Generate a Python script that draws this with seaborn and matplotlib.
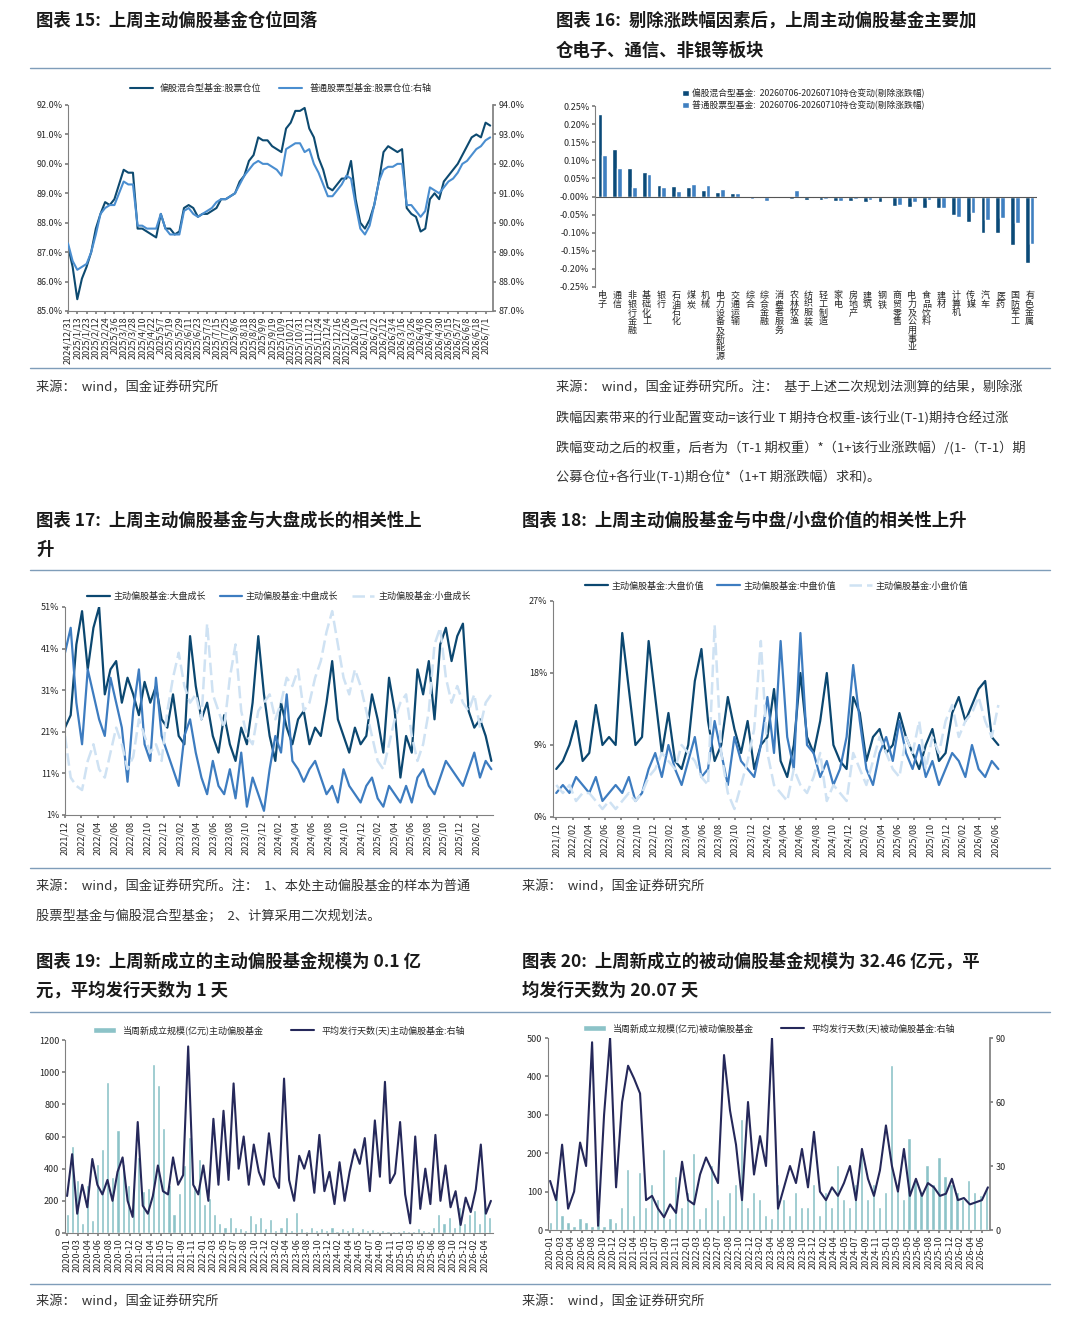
import numpy as np
import pandas as pd
import matplotlib
matplotlib.use("Agg")
import matplotlib.pyplot as plt
import seaborn as sns
from matplotlib.lines import Line2D

sns.set_theme(style="white")
plt.rcParams['font.family'] = ['Noto Sans CJK SC', 'DejaVu Sans']
plt.rcParams['axes.unicode_minus'] = False

# ---------------- data ----------------
# chart 15
c15_ticks = ["2024/12/31", "2025/1/13", "2025/1/23", "2025/2/12", "2025/2/24", "2025/3/6", "2025/3/18",
             "2025/3/28", "2025/4/10", "2025/4/22", "2025/5/7", "2025/5/19", "2025/5/29", "2025/6/11",
             "2025/6/23", "2025/7/3", "2025/7/15", "2025/7/25", "2025/8/6", "2025/8/18", "2025/8/28",
             "2025/9/9", "2025/9/19", "2025/10/9", "2025/10/21", "2025/10/31", "2025/11/12", "2025/11/24",
             "2025/12/4", "2025/12/16", "2025/12/26", "2026/1/9", "2026/1/21", "2026/2/2", "2026/2/12",
             "2026/3/4", "2026/3/16", "2026/3/26", "2026/4/8", "2026/4/20", "2026/4/30", "2026/5/15",
             "2026/5/27", "2026/6/8", "2026/6/18", "2026/7/1"]
c15_mixed = [87.2, 86.5, 85.4, 86.1, 86.5, 87.0, 87.8, 88.3, 88.7, 88.6, 88.8, 89.3, 89.8, 89.7, 89.7, 87.8,
             87.8, 87.7, 87.6, 87.5, 88.3, 87.8, 87.8, 87.6, 87.7, 88.5, 88.6, 88.5, 88.2, 88.3, 88.3, 88.4,
             88.5, 88.8, 88.8, 88.9, 89.0, 89.4, 89.6, 90.1, 90.3, 90.9, 90.8, 90.8, 90.6, 90.5, 90.4, 91.2,
             91.4, 91.8, 91.8, 91.9, 91.2, 90.9, 90.2, 89.8, 89.2, 89.1, 89.3, 89.5, 89.5, 90.1, 88.8, 88.0,
             87.8, 88.1, 88.6, 89.4, 90.4, 90.6, 90.5, 90.4, 90.5, 88.5, 88.3, 88.2, 87.7, 87.8, 88.8, 89.0,
             88.8, 89.4, 89.6, 89.8, 90.0, 90.3, 90.6, 90.9, 91.0, 90.9, 91.4, 91.3]
c15_stock = [89.3, 88.7, 88.4, 88.5, 88.6, 89.0, 89.6, 90.3, 90.5, 90.6, 90.6, 91.0, 91.4, 91.3, 91.3, 89.9,
             89.9, 89.8, 89.8, 89.8, 90.3, 89.8, 89.6, 89.6, 89.6, 90.4, 90.5, 90.3, 90.2, 90.3, 90.4, 90.5,
             90.7, 90.8, 90.8, 90.9, 91.0, 91.3, 91.6, 91.8, 92.0, 92.1, 92.0, 92.0, 91.9, 91.8, 91.6, 92.5,
             92.6, 92.7, 92.7, 92.4, 92.5, 92.0, 91.7, 91.3, 90.9, 90.9, 91.1, 91.3, 91.6, 91.5, 90.6, 89.8,
             89.6, 89.9, 90.6, 91.4, 91.8, 91.9, 91.9, 92.0, 92.0, 90.6, 90.6, 90.4, 90.2, 90.4, 91.2, 91.1,
             91.0, 91.2, 91.4, 91.5, 91.7, 92.0, 92.1, 92.3, 92.5, 92.6, 92.8, 92.9]

# chart 16
c16_inds = ["电子", "通信", "非银行金融", "基础化工", "银行", "石油石化", "煤炭", "机械", "电力设备及新能源",
            "交通运输", "综合", "综合金融", "消费者服务", "农林牧渔", "纺织服装", "轻工制造", "家电", "房地产",
            "建筑", "钢铁", "商贸零售", "电力及公用事业", "食品饮料", "建材", "计算机", "传媒", "汽车", "医药",
            "国防军工", "有色金属"]
c16_mixed = [0.228, 0.130, 0.080, 0.067, 0.031, 0.029, 0.025, 0.017, 0.012, 0.011, -0.002, -0.004, -0.005,
             -0.008, -0.009, -0.010, -0.013, -0.013, -0.014, -0.015, -0.027, -0.029, -0.032, -0.033, -0.050,
             -0.070, -0.100, -0.101, -0.135, -0.185]
c16_stock = [0.115, 0.080, 0.026, 0.063, 0.026, 0.015, 0.035, 0.031, 0.020, 0.010, -0.007, -0.012, -0.002,
             0.017, -0.004, -0.008, -0.013, -0.007, -0.010, -0.001, -0.023, -0.015, -0.009, -0.032, -0.056,
             -0.046, -0.064, -0.059, -0.073, -0.130]

# chart 17
c17_ticks = ["2021/12", "2022/02", "2022/04", "2022/06", "2022/08", "2022/10", "2022/12", "2023/02", "2023/04",
             "2023/06", "2023/08", "2023/10", "2023/12", "2024/02", "2024/04", "2024/06", "2024/08", "2024/10",
             "2024/12", "2025/02", "2025/04", "2025/06", "2025/08", "2025/10", "2025/12", "2026/02"]
c17_large = [22, 25, 42, 50, 36, 46, 51, 30, 36, 38, 28, 34, 30, 25, 33, 28, 32, 24, 22, 30, 20, 18, 44, 32,
             24, 28, 20, 16, 25, 18, 14, 22, 18, 28, 44, 30, 20, 14, 28, 22, 18, 24, 26, 18, 22, 20, 28, 38,
             24, 20, 16, 22, 18, 20, 30, 24, 16, 34, 26, 10, 20, 16, 36, 30, 38, 24, 42, 46, 38, 44, 47, 26,
             22, 24, 20, 14]
c17_mid = [40, 46, 28, 18, 36, 30, 24, 20, 34, 28, 22, 9, 26, 36, 18, 14, 34, 20, 16, 12, 8, 20, 24, 16,
           10, 6, 14, 8, 6, 12, 5, 16, 3, 10, 6, 2, 12, 20, 16, 30, 14, 12, 9, 12, 14, 10, 6, 8, 4, 12, 8,
           6, 4, 8, 10, 5, 3, 8, 6, 4, 8, 4, 10, 12, 8, 6, 10, 14, 12, 10, 8, 12, 16, 10, 14, 12]
c17_small = [20, 10, 8, 7, 14, 18, 12, 10, 16, 22, 18, 12, 15, 24, 20, 16, 18, 14, 26, 34, 40, 32, 28, 30,
             24, 47, 30, 26, 22, 34, 42, 26, 20, 18, 26, 28, 30, 24, 28, 34, 32, 36, 26, 28, 34, 38, 45, 50,
             42, 34, 30, 36, 32, 26, 20, 14, 12, 18, 24, 28, 30, 20, 14, 18, 26, 42, 46, 34, 28, 32, 28, 26,
             30, 22, 28, 30]

# chart 18
c18_ticks = ["2021/12", "2022/02", "2022/04", "2022/06", "2022/08", "2022/10", "2022/12", "2023/02", "2023/04",
             "2023/06", "2023/08", "2023/10", "2023/12", "2024/02", "2024/04", "2024/06", "2024/08", "2024/10",
             "2024/12", "2025/02", "2025/04", "2025/06", "2025/08", "2025/10", "2025/12", "2026/02", "2026/04",
             "2026/06"]
c18_large = [6, 7, 9, 12, 7, 8, 14, 9, 10, 9, 23, 16, 9, 10, 22, 15, 8, 13, 7, 6, 9, 17, 21, 12, 7, 9,
             15, 11, 8, 12, 6, 9, 10, 16, 7, 5, 9, 18, 10, 8, 12, 18, 9, 7, 6, 15, 13, 7, 10, 11, 8, 9, 13,
             10, 8, 6, 9, 11, 7, 8, 13, 15, 12, 14, 16, 17, 10, 9]
c18_mid = [3, 4, 3, 5, 4, 3, 5, 2, 3, 4, 3, 5, 2, 3, 6, 8, 5, 9, 6, 4, 7, 10, 5, 6, 12, 8, 4, 10, 7, 6,
           5, 9, 15, 8, 22, 10, 6, 23, 9, 8, 5, 7, 4, 6, 10, 19, 12, 6, 4, 8, 10, 7, 12, 8, 6, 9, 5, 7,
           4, 6, 8, 7, 5, 9, 6, 5, 7, 6]
c18_small = [4, 3, 4, 2, 3, 3, 2, 1, 2, 1, 2, 3, 2, 3, 5, 6, 8, 7, 6, 9, 8, 7, 5, 4, 24, 8, 3, 1, 4, 7,
             11, 22, 8, 4, 3, 2, 6, 4, 3, 5, 8, 2, 4, 3, 2, 8, 6, 4, 7, 10, 8, 6, 5, 10, 8, 12, 6, 10, 8,
             12, 14, 10, 12, 13, 15, 12, 10, 14]

# chart 19
c19_ticks = ["2020-01", "2020-03", "2020-04", "2020-06", "2020-08", "2020-10", "2020-12", "2021-02", "2021-04",
             "2021-05", "2021-07", "2021-09", "2021-11", "2022-01", "2022-03", "2022-05", "2022-07", "2022-08",
             "2022-10", "2022-12", "2023-02", "2023-04", "2023-06", "2023-08", "2023-10", "2023-12", "2024-02",
             "2024-04", "2024-05", "2024-07", "2024-09", "2024-11", "2025-01", "2025-03", "2025-05", "2025-06",
             "2025-08", "2025-10", "2025-12", "2026-02", "2026-04"]
c19_size = [120, 540, 330, 60, 300, 80, 430, 520, 940, 350, 640, 430, 300, 280, 470, 260, 280, 1050,
            920, 650, 300, 120, 250, 420, 600, 300, 460, 180, 220, 120, 60, 40, 100, 40, 30, 20, 110, 60,
            100, 30, 90, 20, 40, 100, 20, 130, 30, 15, 40, 20, 30, 20, 40, 15, 30, 20, 40, 15, 30, 20, 25, 15,
            20, 10, 15, 10, 20, 10, 15, 30, 20, 10, 40, 120, 60, 100, 40, 160, 60, 120, 140, 60, 200, 100]
c19_days = [230, 490, 120, 300, 160, 460, 300, 240, 330, 200, 380, 470, 200, 100, 690, 170, 120, 230, 420,
            260, 240, 470, 300, 360, 1160, 300, 240, 420, 200, 710, 300, 760, 330, 930, 400, 600, 300, 550,
            380, 300, 620, 350, 280, 960, 330, 200, 480, 400, 510, 250, 610, 260, 380, 180, 440, 200, 380,
            520, 430, 590, 260, 700, 350, 940, 310, 370, 690, 240, 60, 600, 150, 400, 180, 610, 200, 420,
            160, 260, 50, 220, 130, 270, 550, 120, 200]

# chart 20
c20_ticks = ["2020-01", "2020-03", "2020-04", "2020-06", "2020-08", "2020-10", "2020-12", "2021-02", "2021-04",
             "2021-05", "2021-07", "2021-09", "2021-11", "2022-01", "2022-03", "2022-05", "2022-07", "2022-08",
             "2022-10", "2022-12", "2023-02", "2023-04", "2023-06", "2023-08", "2023-10", "2023-12", "2024-02",
             "2024-04", "2024-05", "2024-07", "2024-09", "2024-11", "2025-01", "2025-03", "2025-05", "2025-06",
             "2025-08", "2025-10", "2025-12", "2026-02", "2026-04", "2026-06"]
c20_size = [20, 100, 40, 20, 10, 30, 20, 10, 40, 10, 30, 20, 60, 160, 40, 150, 60, 120, 80, 210, 30, 140, 60,
            100, 200, 30, 60, 170, 80, 40, 100, 120, 290, 60, 100, 80, 40, 30, 120, 80, 40, 100, 60, 60, 120,
            40, 100, 60, 170, 80, 60, 120, 200, 80, 120, 60, 100, 430, 120, 80, 240, 130, 100, 170, 120, 190,
            140, 120, 100, 80, 130, 100, 90, 110]
c20_days = [23, 14, 40, 10, 18, 41, 30, 88, 2, 54, 90, 20, 60, 77, 71, 64, 14, 16, 10, 6, 12, 8, 32, 14,
            12, 26, 34, 28, 22, 82, 56, 40, 14, 60, 26, 44, 30, 90, 10, 20, 30, 22, 38, 20, 46, 18, 14, 20,
            16, 22, 30, 14, 38, 24, 16, 28, 49, 30, 18, 38, 16, 24, 16, 22, 20, 16, 17, 24, 14, 15, 12, 13,
            14, 20]

# ---------------- figure ----------------
fig = plt.figure(figsize=(10.8, 13.29), dpi=100)
W, H = 1080, 1329


def ax_at(l, t, r, b):
    return fig.add_axes([l / W, 1 - b / H, (r - l) / W, (b - t) / H])


def txt(x, y, s, **kw):
    fig.text(x / W, 1 - y / H, s, va='center', ha='left', **kw)


def hline(y, x0=30, x1=1050):
    fig.add_artist(Line2D([x0 / W, x1 / W], [1 - y / H, 1 - y / H], color='#7F9DB9', lw=1))


tfont = dict(fontsize=12.5, fontweight='bold', fontstyle='italic', color='#1a1a1a')
sfont = dict(fontsize=9.5, color='#333333')

txt(36, 21, "图表 15:  上周主动偏股基金仓位回落", **tfont)
txt(556, 21, "图表 16:  剔除涨跌幅因素后，上周主动偏股基金主要加", **tfont)
txt(556, 51, "仓电子、通信、非银等板块", **tfont)
txt(36, 521, "图表 17:  上周主动偏股基金与大盘成长的相关性上", **tfont)
txt(36, 550, "升", **tfont)
txt(522, 521, "图表 18:  上周主动偏股基金与中盘/小盘价值的相关性上升", **tfont)
txt(36, 962, "图表 19:  上周新成立的主动偏股基金规模为 0.1 亿", **tfont)
txt(36, 991, "元，平均发行天数为 1 天", **tfont)
txt(522, 962, "图表 20:  上周新成立的被动偏股基金规模为 32.46 亿元，平", **tfont)
txt(522, 991, "均发行天数为 20.07 天", **tfont)

for y in (68, 368, 570, 868, 1012, 1284):
    hline(y)

txt(36, 388, "来源：  wind，国金证券研究所", **sfont)
txt(556, 388, "来源：  wind，国金证券研究所。注：  基于上述二次规划法测算的结果，剔除涨", **sfont)
txt(556, 418, "跌幅因素带来的行业配置变动=该行业 T 期持仓权重-该行业(T-1)期持仓经过涨", **sfont)
txt(556, 448, "跌幅变动之后的权重，后者为（T-1 期权重）*（1+该行业涨跌幅）/(1-（T-1）期", **sfont)
txt(556, 477, "公募仓位+各行业(T-1)期仓位*（1+T 期涨跌幅）求和)。", **sfont)
txt(36, 887, "来源：  wind，国金证券研究所。注：  1、本处主动偏股基金的样本为普通", **sfont)
txt(36, 916, "股票型基金与偏股混合型基金；  2、计算采用二次规划法。", **sfont)
txt(522, 887, "来源：  wind，国金证券研究所", **sfont)
txt(36, 1302, "来源：  wind，国金证券研究所", **sfont)
txt(522, 1302, "来源：  wind，国金证券研究所", **sfont)

TS = 6.5
SP = '#808080'


def style(ax):
    for s in ['top', 'right']:
        ax.spines[s].set_visible(False)
    for s in ['left', 'bottom']:
        ax.spines[s].set_color(SP)
        ax.spines[s].set_linewidth(0.8)
    ax.tick_params(axis='both', labelsize=TS, length=2, color=SP, pad=2, direction='out')
    ax.tick_params(axis='x', bottom=True)
    ax.tick_params(axis='y', left=True)
    ax.grid(False)


def leg(ax, y=1.08, ncol=3, x=0.5):
    ax.legend(loc='center', bbox_to_anchor=(x, y), ncol=ncol, frameon=False, fontsize=6.5,
              handlelength=2.5, columnspacing=1.5, handletextpad=0.4)


# ---- chart 15 ----
ax = ax_at(68, 105, 493, 311)
x1 = np.arange(len(c15_mixed)) / 2
x2 = np.arange(len(c15_stock)) / 2
sns.lineplot(x=x1, y=c15_mixed, ax=ax, color='#0D4A70', lw=1.5, label='偏股混合型基金:股票仓位')
ax2 = ax.twinx()
sns.lineplot(x=x2, y=c15_stock, ax=ax2, color='#4A8ED0', lw=1.5, label='普通股票型基金:股票仓位:右轴')
ax.set_ylim(85, 92); ax2.set_ylim(87, 94)
ax.set_xlim(0, 45.8)
ax.set_xticks(range(len(c15_ticks)))
ax.set_xticklabels(c15_ticks, rotation=90)
ax.set_yticks(np.arange(85, 92.1, 1))
ax.set_yticklabels([f"{v:.1f}%" for v in np.arange(85, 92.1, 1)])
ax2.set_yticks(np.arange(87, 94.1, 1))
ax2.set_yticklabels([f"{v:.1f}%" for v in np.arange(87, 94.1, 1)])
style(ax)
ax2.grid(False)
for s in ['top', 'left', 'bottom']:
    ax2.spines[s].set_visible(False)
ax2.spines['right'].set_color(SP)
ax2.tick_params(labelsize=TS, length=2, color=SP, right=True, pad=2)
h1, l1 = ax.get_legend_handles_labels()
h2, l2 = ax2.get_legend_handles_labels()
ax2.get_legend().remove()
ax.legend(h1 + h2, l1 + l2, loc='center', bbox_to_anchor=(0.5, 1.08), ncol=2, frameon=False,
          fontsize=6.5, handlelength=2.5, columnspacing=2)

# ---- chart 16 ----
ax = ax_at(595, 106, 1037, 287)
lab1 = '偏股混合型基金:  20260706-20260710持仓变动(剔除涨跌幅)'
lab2 = '普通股票型基金:  20260706-20260710持仓变动(剔除涨跌幅)'
df16 = pd.DataFrame({'ind': c16_inds * 2, 'v': c16_mixed + c16_stock,
                     's': [lab1] * len(c16_inds) + [lab2] * len(c16_inds)})
sns.barplot(data=df16, x='ind', y='v', hue='s', palette=['#0B4A78', '#3F7FC0'], ax=ax, width=0.65,
            saturation=1)
ax.set_ylim(-0.25, 0.25)
ax.set_yticks(np.arange(-0.25, 0.251, 0.05))
ax.set_yticklabels([f"{v:.2f}%" for v in np.arange(-0.25, 0.251, 0.05)])
ax.set_xticks(range(len(c16_inds)))
ax.set_xticklabels(["\n".join(s) for s in c16_inds], fontsize=5.3, linespacing=0.95, va='top')
ax.set_xlabel(''); ax.set_ylabel('')
style(ax)
ax.spines['bottom'].set_visible(False)
ax.axhline(0, color='#555555', lw=0.8)
ax.tick_params(axis='x', length=0, pad=3)
ax.legend(loc='upper left', bbox_to_anchor=(0.18, 1.14), ncol=1, frameon=False, fontsize=6.3,
          handlelength=0.7, handletextpad=0.4, labelspacing=0.3)

# ---- chart 17 ----
ax = ax_at(65, 607, 493, 815)
sns.lineplot(x=np.linspace(0, 25.9, len(c17_large)), y=c17_large, ax=ax, color='#0B4770', lw=1.6,
             label='主动偏股基金:大盘成长')
sns.lineplot(x=np.linspace(0, 25.9, len(c17_mid)), y=c17_mid, ax=ax, color='#3D7CC0', lw=1.6,
             label='主动偏股基金:中盘成长')
sns.lineplot(x=np.linspace(0, 25.9, len(c17_small)), y=c17_small, ax=ax, color='#CFE2F3', lw=1.8,
             label='主动偏股基金:小盘成长')
ax.lines[-1].set_linestyle((0, (5, 2)))
ax.set_ylim(1, 51); ax.set_xlim(0, 26)
ax.set_yticks([1, 11, 21, 31, 41, 51])
ax.set_yticklabels([f"{v}%" for v in [1, 11, 21, 31, 41, 51]])
ax.set_xticks(range(len(c17_ticks)))
ax.set_xticklabels(c17_ticks, rotation=90, fontsize=7)
style(ax)
leg(ax, y=1.05)
ax.get_legend().get_lines()[-1].set_linestyle((0, (5, 2)))

# ---- chart 18 ----
ax = ax_at(553, 601, 1000, 817)
sns.lineplot(x=np.linspace(0, 27.2, len(c18_large)), y=c18_large, ax=ax, color='#0B4770', lw=1.6,
             label='主动偏股基金:大盘价值')
sns.lineplot(x=np.linspace(0, 27.2, len(c18_mid)), y=c18_mid, ax=ax, color='#3D7CC0', lw=1.6,
             label='主动偏股基金:中盘价值')
sns.lineplot(x=np.linspace(0, 27.2, len(c18_small)), y=c18_small, ax=ax, color='#CFE2F3', lw=1.8,
             label='主动偏股基金:小盘价值')
ax.lines[-1].set_linestyle((0, (5, 2)))
ax.set_ylim(0, 27); ax.set_xlim(-0.2, 27.3)
ax.set_yticks([0, 9, 18, 27])
ax.set_yticklabels([f"{v}%" for v in [0, 9, 18, 27]])
ax.set_xticks(range(len(c18_ticks)))
ax.set_xticklabels(c18_ticks, rotation=90, fontsize=7)
style(ax)
leg(ax, y=1.07)
ax.get_legend().get_lines()[-1].set_linestyle((0, (5, 2)))

# ---- chart 19 ----
ax = ax_at(65, 1040, 493, 1233)
xb = np.linspace(0, 40.5, len(c19_size))
ax.bar(xb, c19_size, width=0.3, color='#8CC3C8', label='当周新成立规模(亿元)主动偏股基金')
ax.set_ylim(0, 1200); ax.set_xlim(-0.2, 40.8)
ax.set_yticks(range(0, 1201, 200))
ax.set_xticks(range(len(c19_ticks)))
ax.set_xticklabels(c19_ticks, rotation=90, fontsize=6.5)
style(ax)
ax3 = ax.twinx()
sns.lineplot(x=np.linspace(0, 40.6, len(c19_days)), y=c19_days, ax=ax3, color='#25285A', lw=1.5,
             label='平均发行天数(天)主动偏股基金:右轴')
ax3.set_ylim(0, 1200)
ax3.set_yticks([])
ax3.grid(False)
for s in ax3.spines.values():
    s.set_visible(False)
h1, l1 = ax.get_legend_handles_labels()
h2, l2 = ax3.get_legend_handles_labels()
ax3.get_legend().remove()
ax.legend(h1 + h2, l1 + l2, loc='center', bbox_to_anchor=(0.5, 1.05), ncol=2, frameon=False,
          fontsize=6.5, handlelength=2.5, columnspacing=3)

# ---- chart 20 ----
ax = ax_at(548, 1038, 990, 1230)
xb = np.linspace(0, 41.5, len(c20_size))
ax.bar(xb, c20_size, width=0.3, color='#8CC3C8', label='当周新成立规模(亿元)被动偏股基金')
ax.set_ylim(0, 500); ax.set_xlim(-0.2, 41.8)
ax.set_yticks(range(0, 501, 100))
ax.set_xticks(range(len(c20_ticks)))
ax.set_xticklabels(c20_ticks, rotation=90, fontsize=6.5)
style(ax)
ax4 = ax.twinx()
sns.lineplot(x=np.linspace(0, 41.6, len(c20_days)), y=c20_days, ax=ax4, color='#25285A', lw=1.5,
             label='平均发行天数(天)被动偏股基金:右轴')
ax4.set_ylim(0, 90)
ax4.set_yticks([0, 30, 60, 90])
ax4.grid(False)
for s in ['top', 'left', 'bottom']:
    ax4.spines[s].set_visible(False)
ax4.spines['right'].set_color(SP)
ax4.tick_params(labelsize=TS, length=2, color=SP, right=True, pad=2)
h1, l1 = ax.get_legend_handles_labels()
h2, l2 = ax4.get_legend_handles_labels()
ax4.get_legend().remove()
ax.legend(h1 + h2, l1 + l2, loc='center', bbox_to_anchor=(0.5, 1.05), ncol=2, frameon=False,
          fontsize=6.5, handlelength=2.5, columnspacing=3)

fig.savefig("out.png", dpi=100, facecolor='white')
